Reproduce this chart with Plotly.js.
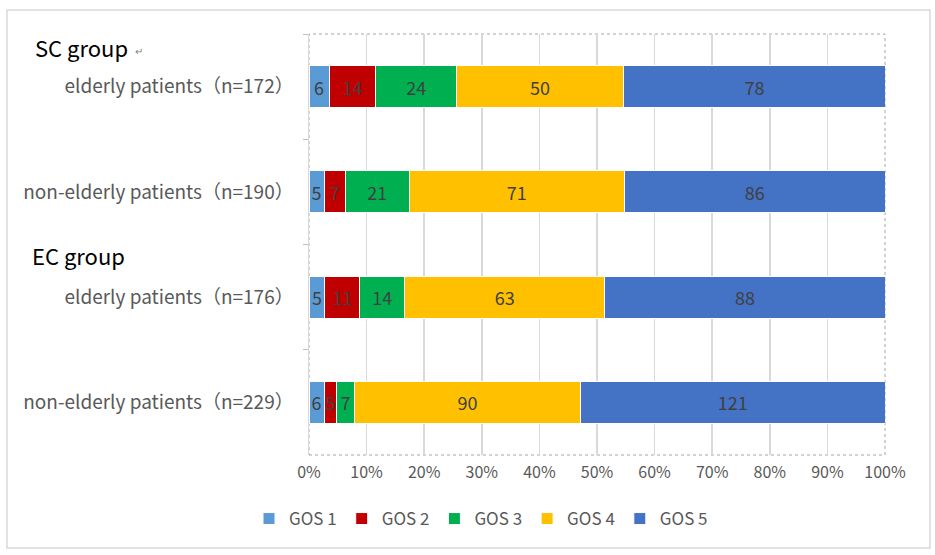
<!DOCTYPE html>
<html>
<head>
<meta charset="utf-8">
<script src="https://cdn.plot.ly/plotly-3.0.1.min.js"></script>
<style>
  html, body { margin: 0; padding: 0; background: #fff; }
  #graph { width: 935px; height: 555px; }
</style>
</head>
<body>
<div id="graph"></div>
<script>
var categories = [
    'elderly patients（n=172）',
    'non-elderly patients（n=190）',
    'elderly patients（n=176）',
    'non-elderly patients（n=229）'
];
var seriesNames = ['GOS 1', 'GOS 2', 'GOS 3', 'GOS 4', 'GOS 5'];
var gos1 = [6, 5, 5, 6];
var gos2 = [14, 7, 11, 5];
var gos3 = [24, 21, 14, 7];
var gos4 = [50, 71, 63, 90];
var gos5 = [78, 86, 88, 121];
var tickVals = [0, 10, 20, 30, 40, 50, 60, 70, 80, 90, 100];
var tickText = ['0%', '10%', '20%', '30%', '40%', '50%', '60%', '70%', '80%', '90%', '100%'];

var colors = ['#5B9BD5', '#C00000', '#00B050', '#FFC000', '#4472C4'];
var series = [gos1, gos2, gos3, gos4, gos5];
var font = '"Noto Sans CJK SC", "Noto Sans", sans-serif';

var data = [];
for (var i = 0; i < series.length; i++) {
    data.push({
        type: 'bar',
        orientation: 'h',
        name: seriesNames[i],
        y: categories,
        x: series[i],
        text: series[i].map(String),
        texttemplate: '%{text}',
        textposition: 'inside',
        insidetextanchor: 'middle',
        constraintext: 'none',
        textfont: { family: font, size: 18, color: '#404040' },
        marker: { color: colors[i], line: { color: '#ffffff', width: 1 } },
        hoverinfo: 'skip'
    });
}

// convert page pixels to paper coordinates
var L = 309, R = 885, T = 34, B = 455;
function px(x) { return (x - L) / (R - L); }
function py(y) { return (B - y) / (B - T); }

var layout = {
    width: 935,
    height: 555,
    margin: { l: L, r: 935 - R, t: T, b: 555 - B },
    paper_bgcolor: '#ffffff',
    plot_bgcolor: '#ffffff',
    barmode: 'stack',
    barnorm: 'percent',
    bargap: 0.6,
    uniformtext: { mode: 'show', minsize: 18 },
    font: { family: font, color: '#595959' },
    showlegend: true,
    legend: {
        orientation: 'h',
        x: px(481), xanchor: 'center',
        y: py(519), yanchor: 'middle',
        font: { family: font, size: 17, color: '#595959' },
        traceorder: 'normal',
        itemwidth: 30
    },
    xaxis: {
        range: [0, 100],
        tickvals: tickVals,
        ticktext: tickText,
        showgrid: true,
        gridcolor: '#d9d9d9',
        gridwidth: 1.5,
        zeroline: false,
        showline: false,
        ticks: '',
        ticklabelstandoff: 6,
        tickfont: { family: font, size: 16, color: '#595959' },
        fixedrange: true
    },
    yaxis: {
        type: 'category',
        autorange: 'reversed',
        showgrid: false,
        showline: true,
        linecolor: '#d9d9d9',
        linewidth: 1.5,
        ticks: 'outside',
        tickson: 'boundaries',
        ticklen: 5,
        tickcolor: '#bfbfbf',
        ticklabelstandoff: 10,
        tickfont: { family: font, size: 19, color: '#595959' },
        fixedrange: true
    },
    annotations: [
        { xref: 'paper', yref: 'paper', x: px(33), y: py(47), xanchor: 'left', yanchor: 'middle',
          text: 'SC group', showarrow: false, font: { family: font, size: 22, color: '#000000' } },
        { xref: 'paper', yref: 'paper', x: px(133), y: py(50), xanchor: 'left', yanchor: 'middle',
          text: '↵', showarrow: false, font: { family: font, size: 10, color: '#7f7f7f' } },
        { xref: 'paper', yref: 'paper', x: px(30), y: py(255), xanchor: 'left', yanchor: 'middle',
          text: 'EC group', showarrow: false, font: { family: font, size: 22, color: '#000000' } }
    ],
    shapes: [
        { type: 'rect', xref: 'paper', yref: 'paper', x0: 0, x1: 1, y0: 0, y1: 1,
          line: { color: '#a6a6a6', width: 1, dash: 'dot' }, layer: 'below' },
        { type: 'rect', xref: 'paper', yref: 'paper', x0: px(7), x1: px(930), y0: py(548), y1: py(10),
          line: { color: '#d9d9d9', width: 1.5 } }
    ]
};

Plotly.newPlot('graph', data, layout, { displayModeBar: false, staticPlot: true });
</script>
</body>
</html>
